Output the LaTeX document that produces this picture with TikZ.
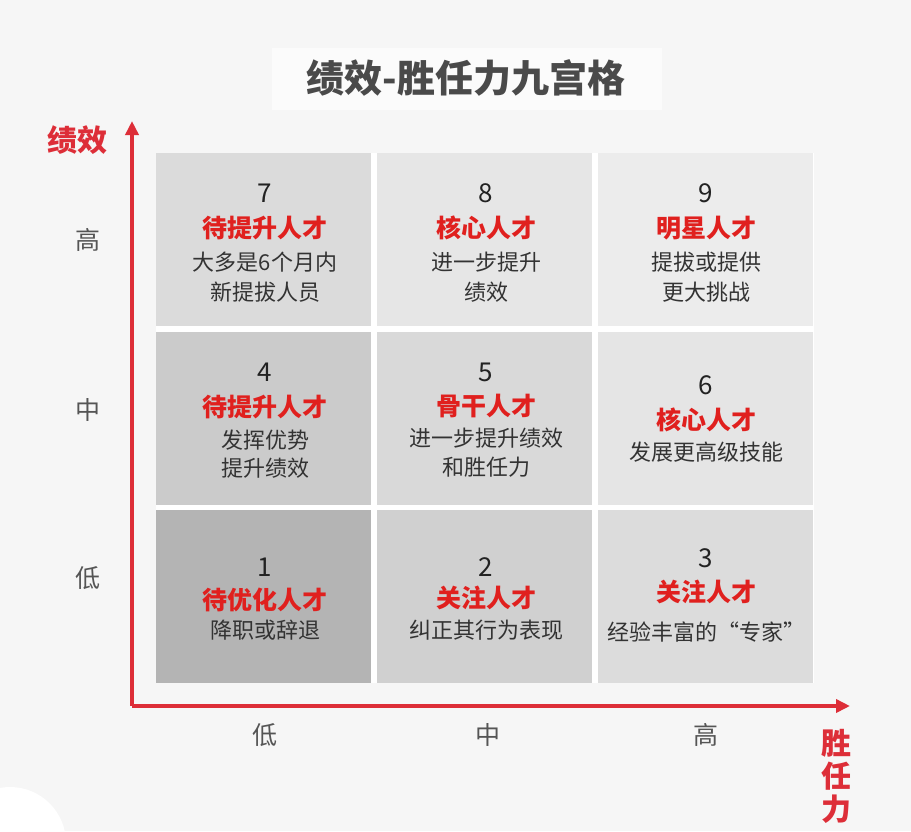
\documentclass[tikz,border=0pt]{standalone}
\usepackage{fontspec}
\newfontfamily\cjk{Noto Sans CJK SC}
\usetikzlibrary{arrows.meta}
\definecolor{bgc}{HTML}{F6F6F6}
\definecolor{titlebox}{HTML}{FBFBFB}
\definecolor{titlec}{HTML}{4A4A4A}
\definecolor{axisred}{HTML}{DD2E38}
\definecolor{redc}{HTML}{E0201E}
\definecolor{numc}{HTML}{222222}
\definecolor{bodyc}{HTML}{333333}
\definecolor{lblc}{HTML}{555555}
\definecolor{g1}{HTML}{B4B4B4}
\definecolor{g2}{HTML}{D0D0D0}
\definecolor{g3}{HTML}{DCDCDC}
\definecolor{g4}{HTML}{CBCBCB}
\definecolor{g5}{HTML}{D9D9D9}
\definecolor{g6}{HTML}{E5E5E5}
\definecolor{g7}{HTML}{DBDBDB}
\definecolor{g8}{HTML}{E6E6E6}
\definecolor{g9}{HTML}{ECECEC}
\begin{document}
\begin{tikzpicture}[x=1pt,y=-1pt,
  cellbox/.style={draw=none,minimum width=215pt,minimum height=173pt,inner sep=0pt,outer sep=0pt,anchor=north west},
  numtxt/.style={font=\cjk\fontsize{26}{30}\selectfont,text=numc,inner sep=0pt},
  redtxt/.style={font=\cjk\bfseries\fontsize{25}{30}\selectfont,text=redc,inner sep=0pt},
  bodytxt/.style={font=\cjk\fontsize{22}{30}\selectfont,text=bodyc,inner sep=0pt},
  lbltxt/.style={font=\cjk\fontsize{25}{30}\selectfont,text=lblc,inner sep=0pt},
  axislbl/.style={font=\cjk\bfseries\fontsize{30}{33}\selectfont,text=axisred,inner sep=0pt,align=center},
  axisline/.style={draw=axisred,line width=3.5pt,-{Triangle[length=14pt,width=13pt]}}
]
\useasboundingbox (0,0) rectangle (911,831);
\fill[bgc] (0,0) rectangle (911,831);
\fill[white] (10,843) circle (56);
% title
\fill[titlebox] (272,48) rectangle (662,110);
\node[font=\cjk\bfseries\fontsize{38}{44}\selectfont,text=titlec,inner sep=0pt] (title) at (466,78) {绩效-胜任力九宫格};
% grid backdrop (white gaps)
\fill[white] (156,153) rectangle (814,683);
% cells
\node[cellbox,fill=g7] (c7) at (156,153) {};
\node[cellbox,fill=g8] (c8) at (377,153) {};
\node[cellbox,fill=g9] (c9) at (598,153) {};
\node[cellbox,fill=g4] (c4) at (156,332) {};
\node[cellbox,fill=g5] (c5) at (377,332) {};
\node[cellbox,fill=g6] (c6) at (598,332) {};
\node[cellbox,fill=g1] (c1) at (156,510) {};
\node[cellbox,fill=g2] (c2) at (377,510) {};
\node[cellbox,fill=g3] (c3) at (598,510) {};
% cell 7
\node[numtxt] (n7) at (265,193) {7};
\node[redtxt] (r7) at (265,228) {待提升人才};
\node[bodytxt] (b7a) at (265,262) {大多是6个月内};
\node[bodytxt] (b7b) at (265,292) {新提拔人员};
% cell 8
\node[numtxt] (n8) at (486,193) {8};
\node[redtxt] (r8) at (486,228) {核心人才};
\node[bodytxt] (b8a) at (486,262) {进一步提升};
\node[bodytxt] (b8b) at (486,292) {绩效};
% cell 9
\node[numtxt] (n9) at (706,193) {9};
\node[redtxt] (r9) at (706,228) {明星人才};
\node[bodytxt] (b9a) at (706,262) {提拔或提供};
\node[bodytxt] (b9b) at (706,292) {更大挑战};
% cell 4
\node[numtxt] (n4) at (265,372) {4};
\node[redtxt] (r4) at (265,407) {待提升人才};
\node[bodytxt] (b4a) at (265,440) {发挥优势};
\node[bodytxt] (b4b) at (265,468) {提升绩效};
% cell 5
\node[numtxt] (n5) at (486,372) {5};
\node[redtxt] (r5) at (486,406) {骨干人才};
\node[bodytxt] (b5a) at (486,438) {进一步提升绩效};
\node[bodytxt] (b5b) at (486,467) {和胜任力};
% cell 6
\node[numtxt] (n6) at (706,385) {6};
\node[redtxt] (r6) at (706,420) {核心人才};
\node[bodytxt] (b6a) at (706,452) {发展更高级技能};
% cell 1
\node[numtxt] (n1) at (265,567) {1};
\node[redtxt] (r1) at (265,600) {待优化人才};
\node[bodytxt] (b1a) at (265,630) {降职或辞退};
% cell 2
\node[numtxt] (n2) at (486,567) {2};
\node[redtxt] (r2) at (486,598) {关注人才};
\node[bodytxt] (b2a) at (486,630) {纠正其行为表现};
% cell 3
\node[numtxt] (n3) at (706,558) {3};
\node[redtxt] (r3) at (706,592) {关注人才};
\node[bodytxt] (b3a) at (706,632) {经验丰富的“专家”};
% axes
\coordinate (O) at (132,706);
\coordinate (ytop) at (132,121);
\coordinate (xend) at (850,706);
\draw[axisline] (O) -- (ytop);
\draw[axisline] (O) -- (xend);
\node[axislbl] (ylab) at (77,140) {绩效};
\node[axislbl] (xlab) at (836,776) {胜\\任\\力};
% level labels
\node[lbltxt] (yh) at (88,240) {高};
\node[lbltxt] (ym) at (88,410) {中};
\node[lbltxt] (yl) at (88,578) {低};
\node[lbltxt] (xl) at (265,735) {低};
\node[lbltxt] (xm) at (488,735) {中};
\node[lbltxt] (xh) at (706,735) {高};
\end{tikzpicture}
\end{document}
